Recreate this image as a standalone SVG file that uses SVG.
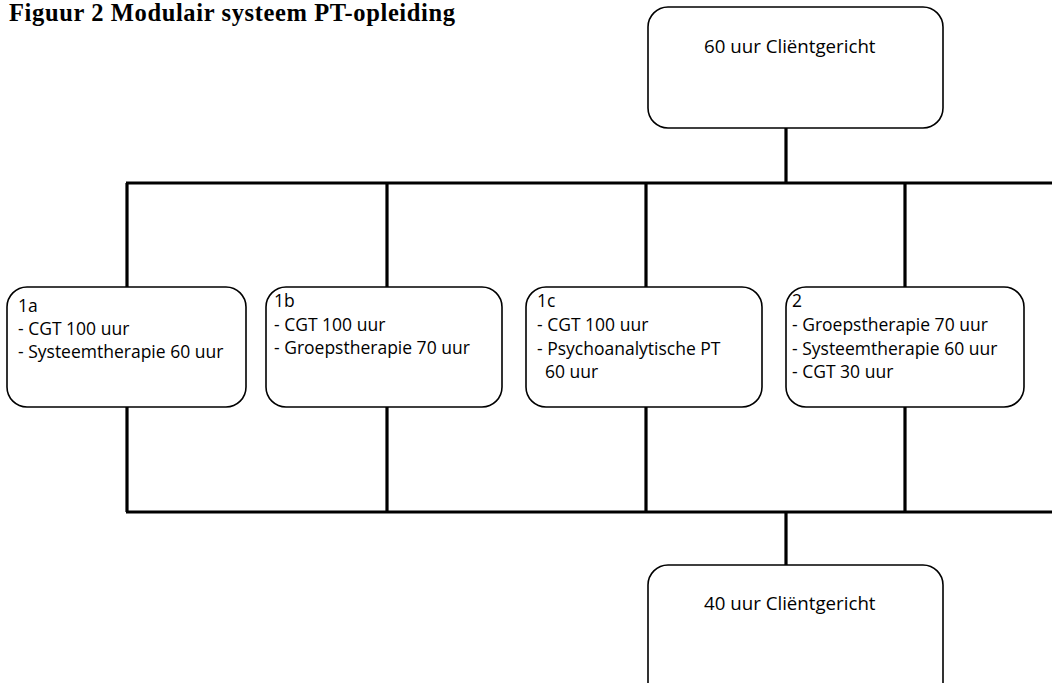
<svg xmlns="http://www.w3.org/2000/svg" width="1052" height="683" viewBox="0 0 1052 683">
<style>
.box{fill:#fff;stroke:#000;stroke-width:1.6}
.t{font-family:"Open Sans","Noto Sans","Liberation Sans",sans-serif;font-size:17.5px;fill:#000}
.h{font-family:"Open Sans","Noto Sans","Liberation Sans",sans-serif;font-size:18.7px;fill:#000}
.title{font-family:"Liberation Serif","Times New Roman",serif;font-weight:bold;font-size:24.5px;fill:#000}
.c{fill:none;stroke:#000;stroke-width:3.2}
</style>
<rect width="1052" height="683" fill="#fff"/>
<text class="title" x="9" y="21" textLength="446" lengthAdjust="spacing">Figuur 2 Modulair systeem PT-opleiding</text>
<g id="connectors">
<path class="c" d="M786 128V183M126 183H1052M127 183V287M387 183V287M646 183V287M905 183V287"/>
<path class="c" d="M127 407V512M387 407V512M646 407V512M905 407V512M126 512H1052M786 512V565"/>
</g>
<g id="top">
<rect class="box" x="648" y="7" width="295" height="121" rx="20"/>
<text class="h" x="704" y="53">60 uur Cliëntgericht</text>
</g>
<g id="n1a">
<rect class="box" x="7" y="287" width="239" height="120" rx="20"/>
<text class="t" x="18" y="312">1a</text>
<text class="t" x="18" y="335">- CGT 100 uur</text>
<text class="t" x="18" y="358">- Systeemtherapie 60 uur</text>
</g>
<g id="n1b">
<rect class="box" x="266" y="287" width="236" height="120" rx="20"/>
<text class="t" x="274" y="307">1b</text>
<text class="t" x="274" y="331">- CGT 100 uur</text>
<text class="t" x="274" y="354">- Groepstherapie 70 uur</text>
</g>
<g id="n1c">
<rect class="box" x="526" y="287" width="236" height="120" rx="20"/>
<text class="t" x="537" y="307">1c</text>
<text class="t" x="537" y="331">- CGT 100 uur</text>
<text class="t" x="537" y="355">- Psychoanalytische PT</text>
<text class="t" x="545" y="378">60 uur</text>
</g>
<g id="n2">
<rect class="box" x="786" y="287" width="238" height="120" rx="20"/>
<text class="t" x="792" y="307">2</text>
<text class="t" x="792" y="331">- Groepstherapie 70 uur</text>
<text class="t" x="792" y="355">- Systeemtherapie 60 uur</text>
<text class="t" x="792" y="378">- CGT 30 uur</text>
</g>
<g id="bottom">
<rect class="box" x="648" y="565" width="295" height="140" rx="20"/>
<text class="h" x="704" y="610">40 uur Cliëntgericht</text>
</g>
</svg>
